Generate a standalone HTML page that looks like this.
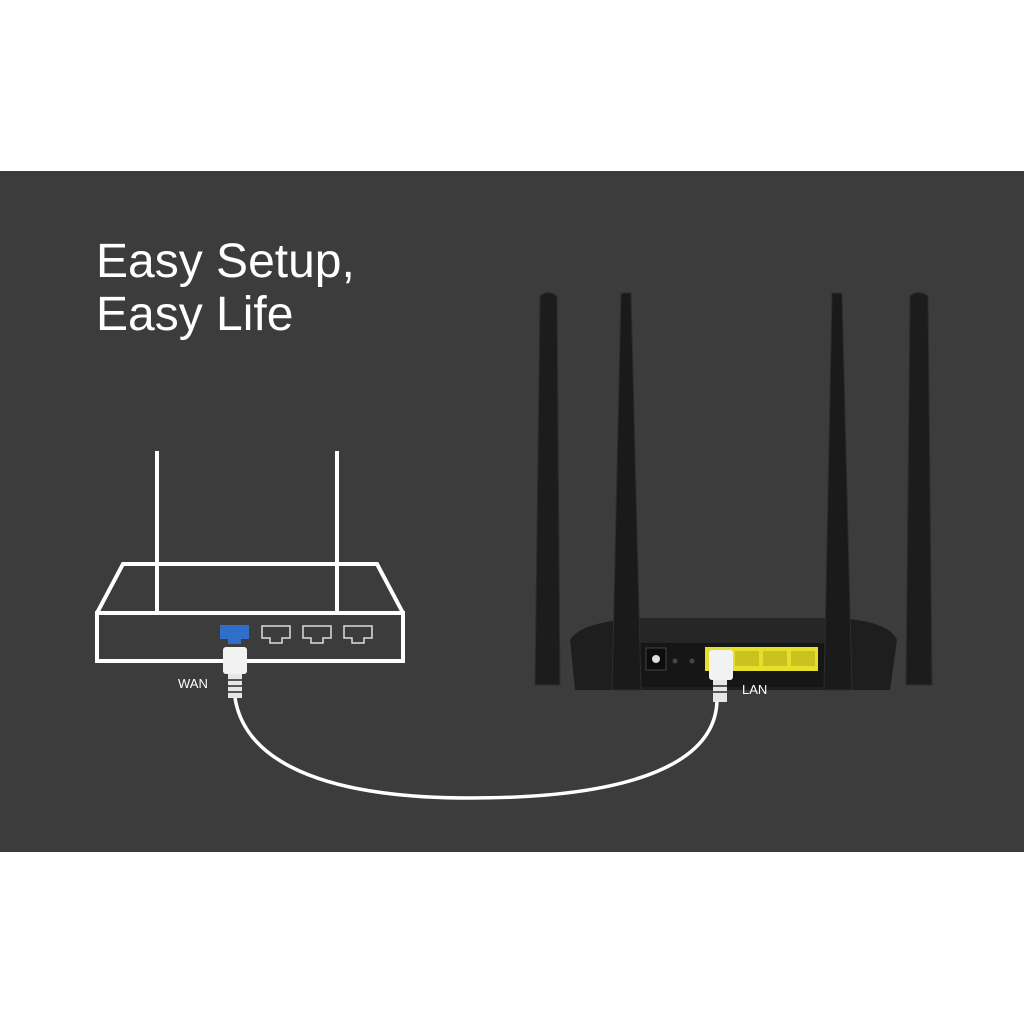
<!DOCTYPE html>
<html><head><meta charset="utf-8"><style>
html,body{margin:0;padding:0;background:#fff;}
svg{display:block}
</style></head><body>
<svg width="1024" height="1024" viewBox="0 0 1024 1024" xmlns="http://www.w3.org/2000/svg">
<rect x="0" y="0" width="1024" height="1024" fill="#ffffff"/>
<rect x="0" y="171" width="1024" height="681" fill="#3c3c3c"/>
<text x="96" y="277" font-family="Liberation Sans, sans-serif" font-size="48" fill="#ffffff">Easy Setup,</text>
<text x="96" y="330" font-family="Liberation Sans, sans-serif" font-size="48" fill="#ffffff">Easy Life</text>

<!-- left router outline -->
<g stroke="#ffffff" stroke-width="4" fill="none">
<line x1="157" y1="451" x2="157" y2="613"/>
<line x1="337" y1="451" x2="337" y2="613"/>
<polyline points="97,613 123,564 377,564 403,613"/>
<rect x="97" y="613" width="306" height="48"/>
</g>
<!-- ports -->
<path d="M220,625 h29 v14 h-8 v5 h-13 v-5 h-8z" fill="#2f6fc8"/>
<g stroke="#dddddd" stroke-width="1.5" fill="none">
<path d="M262,626 h28 v12 h-8 v5 h-12 v-5 h-8z"/>
<path d="M303,626 h28 v12 h-8 v5 h-12 v-5 h-8z"/>
<path d="M344,626 h28 v12 h-8 v5 h-12 v-5 h-8z"/>
</g>
<!-- WAN plug -->
<rect x="223" y="647" width="24" height="27" rx="3" fill="#f2f2f2"/>
<rect x="228" y="674" width="14" height="24" fill="#e6e6e6"/>
<g stroke="#555" stroke-width="2"><line x1="228" y1="680" x2="242" y2="680"/><line x1="228" y1="686" x2="242" y2="686"/><line x1="228" y1="692" x2="242" y2="692"/></g>
<text x="178" y="688" font-family="Liberation Sans, sans-serif" font-size="13" fill="#ffffff">WAN</text>

<!-- cable -->
<path d="M235,698 C245,760 320,798 470,798 C640,798 716,760 717,700" stroke="#ffffff" stroke-width="3.5" fill="none"/>

<!-- right router -->
<path d="M570,640 Q580,622 640,618 L840,618 Q890,622 897,640 L890,690 L575,690 Z" fill="#1e1e1e"/>
<path d="M640,618 L840,618 L840,645 L640,645 Z" fill="#262626"/>
<rect x="640" y="643" width="200" height="44" fill="#161616"/>
<rect x="646" y="648" width="20" height="22" fill="#0c0c0c" stroke="#444" stroke-width="1"/>
<circle cx="656" cy="659" r="4" fill="#ddd"/>
<circle cx="675" cy="661" r="2.5" fill="#444"/>
<circle cx="692" cy="661" r="2.5" fill="#444"/>
<rect x="705" y="647" width="113" height="24" fill="#e7e02a"/>
<rect x="735" y="651" width="24" height="15" fill="#c9c21f"/>
<rect x="763" y="651" width="24" height="15" fill="#c9c21f"/>
<rect x="791" y="651" width="24" height="15" fill="#c9c21f"/>
<!-- antennas -->
<path d="M540,296 Q548,289 557,296 L560,685 L535,685 Z" fill="#1c1c1c" stroke="#2e2e2e"/>
<path d="M621,293 L631,293 L641,690 L612,690 Z" fill="#1a1a1a" stroke="#2e2e2e"/>
<path d="M832,293 L842,293 L852,690 L824,690 Z" fill="#1a1a1a" stroke="#2e2e2e"/>
<path d="M910,296 Q918,289 928,296 L932,685 L906,685 Z" fill="#1c1c1c" stroke="#2e2e2e"/>
<!-- LAN plug -->
<rect x="709" y="650" width="24" height="30" rx="3" fill="#f2f2f2"/>
<rect x="713" y="680" width="14" height="22" fill="#e6e6e6"/>
<g stroke="#555" stroke-width="2"><line x1="713" y1="686" x2="727" y2="686"/><line x1="713" y1="692" x2="727" y2="692"/></g>
<text x="742" y="694" font-family="Liberation Sans, sans-serif" font-size="13" fill="#ffffff">LAN</text>
</svg>
</body></html>
